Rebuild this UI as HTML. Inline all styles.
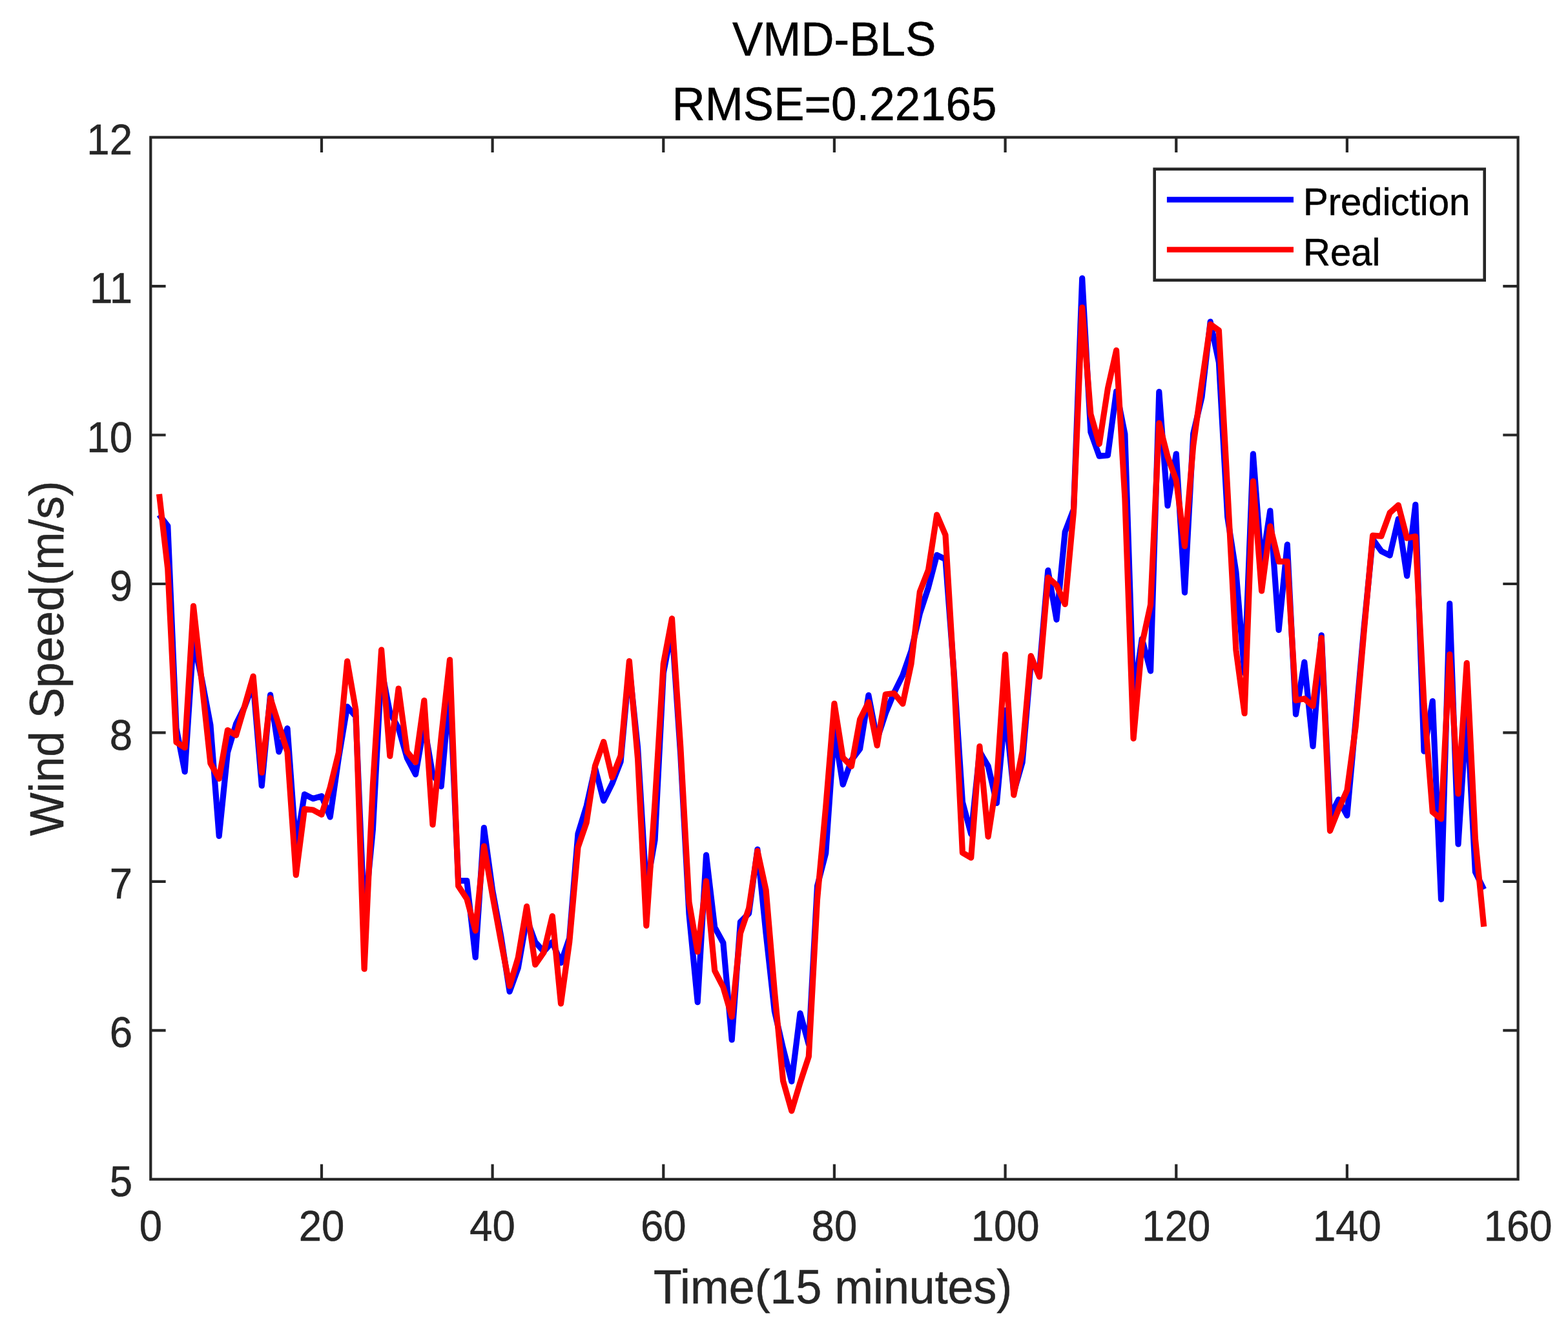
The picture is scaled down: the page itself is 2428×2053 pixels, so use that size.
<!DOCTYPE html>
<html lang="en">
<head>
<meta charset="utf-8">
<title>VMD-BLS RMSE=0.22165</title>
<style>
html,body{margin:0;padding:0;background:#fff;}
body{width:2428px;height:2053px;overflow:hidden;}
svg{display:block;position:absolute;left:0;top:0;}
text{font-family:"Liberation Sans",Arial,Helvetica,sans-serif;}
.tk{font-size:63.5px;fill:#262626;stroke:#262626;stroke-width:0.5px;}
.lb{font-size:70px;fill:#262626;stroke:#262626;stroke-width:0.5px;}
.tt{font-size:70px;fill:#000;stroke:#000;stroke-width:0.5px;}
.lg{font-size:57px;fill:#000;stroke:#000;stroke-width:0.5px;}
</style>
</head>
<body>
<svg width="2428" height="2053" viewBox="0 0 2428 2053">
<rect x="0" y="0" width="2428" height="2053" fill="#ffffff"/>
<polyline fill="none" stroke="#0000ff" stroke-width="9.2" stroke-linejoin="round" stroke-linecap="butt" points="246.5,797.0 259.8,814.3 273.0,1127.5 286.2,1194.8 299.5,991.5 312.7,1052.6 325.9,1122.4 339.2,1294.4 352.4,1165.3 365.6,1120.6 378.9,1094.1 392.1,1058.4 405.3,1216.5 418.6,1075.9 431.8,1163.9 445.0,1127.7 458.3,1310.5 471.5,1229.8 484.7,1236.5 498.0,1232.6 511.2,1264.9 524.4,1173.6 537.7,1094.1 550.9,1109.1 564.1,1422.5 577.4,1284.2 590.6,1035.3 603.8,1103.3 617.1,1127.5 630.3,1173.6 643.5,1199.0 656.8,1122.9 670.0,1199.0 683.2,1217.6 696.5,1065.3 709.7,1363.7 722.9,1363.7 736.2,1482.2 749.4,1281.5 762.6,1378.0 775.9,1450.4 789.1,1535.2 802.3,1498.8 815.6,1422.5 828.8,1458.5 842.0,1473.2 855.3,1458.5 868.5,1490.7 881.7,1452.5 895.0,1290.9 908.2,1247.8 921.4,1188.8 934.7,1239.7 947.9,1213.0 961.1,1179.4 974.4,1033.0 987.6,1157.5 1000.8,1376.4 1014.1,1300.4 1027.3,1042.2 1040.5,973.1 1053.8,1169.0 1067.0,1415.6 1080.2,1551.6 1093.5,1323.9 1106.7,1435.6 1119.9,1459.8 1133.2,1609.9 1146.4,1427.6 1159.6,1414.2 1172.9,1315.1 1186.1,1445.5 1199.3,1565.4 1212.6,1623.0 1225.8,1674.4 1239.0,1568.8 1252.3,1617.0 1265.5,1371.8 1278.7,1321.1 1291.9,1132.1 1305.2,1214.6 1318.4,1177.1 1331.6,1159.5 1344.9,1076.4 1358.1,1144.8 1371.3,1104.5 1384.6,1072.2 1397.8,1045.5 1411.0,1007.7 1424.3,950.1 1437.5,909.7 1450.7,859.3 1464.0,865.9 1477.2,1042.2 1490.4,1241.6 1503.7,1291.4 1516.9,1163.7 1530.1,1186.1 1543.4,1243.4 1556.6,1099.9 1569.8,1226.6 1583.1,1180.5 1596.3,1026.1 1609.5,1037.6 1622.8,883.2 1636.0,959.3 1649.2,823.3 1662.5,788.7 1675.7,430.8 1688.9,668.9 1702.2,706.2 1715.4,704.9 1728.6,606.0 1741.9,671.9 1755.1,1076.8 1768.3,989.2 1781.6,1038.8 1794.8,606.7 1808.0,783.0 1821.3,702.8 1834.5,917.3 1847.7,671.2 1861.0,615.0 1874.2,498.1 1887.4,561.3 1900.7,800.3 1913.9,885.5 1927.1,1042.2 1940.4,702.8 1953.6,876.3 1966.8,790.8 1980.1,975.4 1993.3,843.2 2006.5,1105.9 2019.8,1025.2 2033.0,1155.4 2046.2,983.5 2059.5,1263.5 2072.7,1237.9 2085.9,1262.6 2099.2,1116.0 2112.4,968.5 2125.6,834.8 2138.9,853.3 2152.1,860.0 2165.3,803.5 2178.6,891.6 2191.8,781.4 2205.0,1163.2 2218.3,1085.6 2231.5,1392.4 2244.7,934.6 2258.0,1306.9 2271.2,1099.9 2284.4,1349.9 2297.7,1377.1"/>
<polyline fill="none" stroke="#ff0000" stroke-width="9.2" stroke-linejoin="round" stroke-linecap="butt" points="246.5,765.0 259.8,880.9 273.0,1149.2 286.2,1157.5 299.5,938.3 312.7,1057.9 325.9,1181.7 339.2,1205.6 352.4,1130.5 365.6,1138.3 378.9,1092.9 392.1,1047.1 405.3,1196.2 418.6,1080.7 431.8,1122.4 445.0,1163.9 458.3,1354.7 471.5,1252.7 484.7,1254.0 498.0,1261.2 511.2,1219.0 524.4,1165.3 537.7,1023.8 550.9,1099.4 564.1,1500.2 577.4,1215.1 590.6,1006.1 603.8,1170.6 617.1,1066.0 630.3,1163.9 643.5,1180.1 656.8,1084.6 670.0,1276.9 683.2,1141.3 696.5,1021.5 709.7,1371.8 722.9,1391.8 736.2,1440.9 749.4,1310.0 762.6,1386.1 775.9,1458.5 789.1,1526.7 802.3,1482.6 815.6,1403.4 828.8,1493.5 842.0,1474.6 855.3,1418.4 868.5,1553.9 881.7,1458.5 895.0,1311.7 908.2,1273.4 921.4,1186.1 934.7,1148.5 947.9,1203.6 961.1,1169.9 974.4,1023.6 987.6,1175.2 1000.8,1433.1 1014.1,1242.5 1027.3,1027.5 1040.5,957.7 1053.8,1156.6 1067.0,1396.7 1080.2,1473.4 1093.5,1364.2 1106.7,1502.9 1119.9,1528.5 1133.2,1574.1 1146.4,1445.1 1159.6,1406.1 1172.9,1317.4 1186.1,1378.0 1199.3,1533.8 1212.6,1673.5 1225.8,1720.0 1239.0,1676.2 1252.3,1635.9 1265.5,1392.5 1278.7,1249.7 1291.9,1089.3 1305.2,1173.1 1318.4,1186.5 1331.6,1113.9 1344.9,1087.2 1358.1,1154.2 1371.3,1075.0 1384.6,1073.6 1397.8,1089.7 1411.0,1027.7 1424.3,916.2 1437.5,882.5 1450.7,797.0 1464.0,828.4 1477.2,1048.0 1490.4,1320.2 1503.7,1328.0 1516.9,1155.6 1530.1,1295.3 1543.4,1209.3 1556.6,1013.4 1569.8,1230.8 1583.1,1163.7 1596.3,1015.5 1609.5,1047.8 1622.8,894.1 1636.0,906.0 1649.2,935.5 1662.5,792.2 1675.7,476.0 1688.9,641.3 1702.2,687.3 1715.4,601.6 1728.6,542.4 1741.9,771.5 1755.1,1143.4 1768.3,997.3 1781.6,936.2 1794.8,655.1 1808.0,706.9 1821.3,743.3 1834.5,845.7 1847.7,690.3 1861.0,593.5 1874.2,502.1 1887.4,511.5 1900.7,756.9 1913.9,1006.3 1927.1,1104.5 1940.4,745.0 1953.6,915.0 1966.8,814.8 1980.1,869.4 1993.3,869.4 2006.5,1084.3 2019.8,1081.7 2033.0,1093.2 2046.2,987.6 2059.5,1286.3 2072.7,1253.1 2085.9,1223.6 2099.2,1125.2 2112.4,974.3 2125.6,829.1 2138.9,830.2 2152.1,794.0 2165.3,782.1 2178.6,833.0 2191.8,830.5 2205.0,1089.7 2218.3,1257.3 2231.5,1268.0 2244.7,1013.1 2258.0,1229.0 2271.2,1026.6 2284.4,1298.8 2297.7,1434.7"/>
<path d="M498.0 1825.8v-23.3M498.0 212.6v23.3M762.6 1825.8v-23.3M762.6 212.6v23.3M1027.3 1825.8v-23.3M1027.3 212.6v23.3M1291.9 1825.8v-23.3M1291.9 212.6v23.3M1556.6 1825.8v-23.3M1556.6 212.6v23.3M1821.3 1825.8v-23.3M1821.3 212.6v23.3M2085.9 1825.8v-23.3M2085.9 212.6v23.3M233.3 1595.3h23.3M2350.6 1595.3h-23.3M233.3 1364.9h23.3M2350.6 1364.9h-23.3M233.3 1134.4h23.3M2350.6 1134.4h-23.3M233.3 904.0h23.3M2350.6 904.0h-23.3M233.3 673.5h23.3M2350.6 673.5h-23.3M233.3 443.1h23.3M2350.6 443.1h-23.3" fill="none" stroke="#262626" stroke-width="4.2"/>
<rect x="233.3" y="212.6" width="2117.3" height="1613.2" fill="none" stroke="#262626" stroke-width="4.2"/>
<text class="tk" transform="translate(233.3 1920.6) scale(1.0 1.06)" text-anchor="middle">0</text>
<text class="tk" transform="translate(498.0 1920.6) scale(1.0 1.06)" text-anchor="middle">20</text>
<text class="tk" transform="translate(762.6 1920.6) scale(1.0 1.06)" text-anchor="middle">40</text>
<text class="tk" transform="translate(1027.3 1920.6) scale(1.0 1.06)" text-anchor="middle">60</text>
<text class="tk" transform="translate(1291.9 1920.6) scale(1.0 1.06)" text-anchor="middle">80</text>
<text class="tk" transform="translate(1556.6 1920.6) scale(1.0 1.06)" text-anchor="middle">100</text>
<text class="tk" transform="translate(1821.3 1920.6) scale(1.0 1.06)" text-anchor="middle">120</text>
<text class="tk" transform="translate(2085.9 1920.6) scale(1.0 1.06)" text-anchor="middle">140</text>
<text class="tk" transform="translate(2350.6 1920.6) scale(1.0 1.06)" text-anchor="middle">160</text>
<text class="tk" transform="translate(205.0 1851.9) scale(1.0 1.06)" text-anchor="end">5</text>
<text class="tk" transform="translate(205.0 1621.4) scale(1.0 1.06)" text-anchor="end">6</text>
<text class="tk" transform="translate(205.0 1391.0) scale(1.0 1.06)" text-anchor="end">7</text>
<text class="tk" transform="translate(205.0 1160.5) scale(1.0 1.06)" text-anchor="end">8</text>
<text class="tk" transform="translate(205.0 930.1) scale(1.0 1.06)" text-anchor="end">9</text>
<text class="tk" transform="translate(205.0 699.6) scale(1.0 1.06)" text-anchor="end">10</text>
<text class="tk" transform="translate(205.0 469.2) scale(1.0 1.06)" text-anchor="end">11</text>
<text class="tk" transform="translate(205.0 238.7) scale(1.0 1.06)" text-anchor="end">12</text>
<text class="lb" transform="translate(1289.6 2017.8) scale(1.0246 1.046)" text-anchor="middle">Time(15 minutes)</text>
<text class="lb" transform="translate(97.6 1019.4) rotate(-90) scale(1.017 1.065)" text-anchor="middle">Wind Speed(m/s)</text>
<text class="tt" transform="translate(1291.6 86.2) scale(1.014 1.055)" text-anchor="middle">VMD-BLS</text>
<text class="tt" transform="translate(1292.0 186.4) scale(1.014 1.035)" text-anchor="middle">RMSE=0.22165</text>
<rect x="1787.7" y="261.8" width="511.0" height="172.0" fill="#ffffff" stroke="#262626" stroke-width="4.6"/>
<line x1="1806.9" y1="309.1" x2="2003" y2="309.1" stroke="#0000ff" stroke-width="8.6"/>
<line x1="1806.9" y1="386.5" x2="2003" y2="386.5" stroke="#ff0000" stroke-width="8.6"/>
<text class="lg" transform="translate(2018.0 333.3) scale(1.019 1.04)">Prediction</text>
<text class="lg" transform="translate(2018.0 410.8) scale(1.019 1.04)">Real</text>
</svg>
</body>
</html>
